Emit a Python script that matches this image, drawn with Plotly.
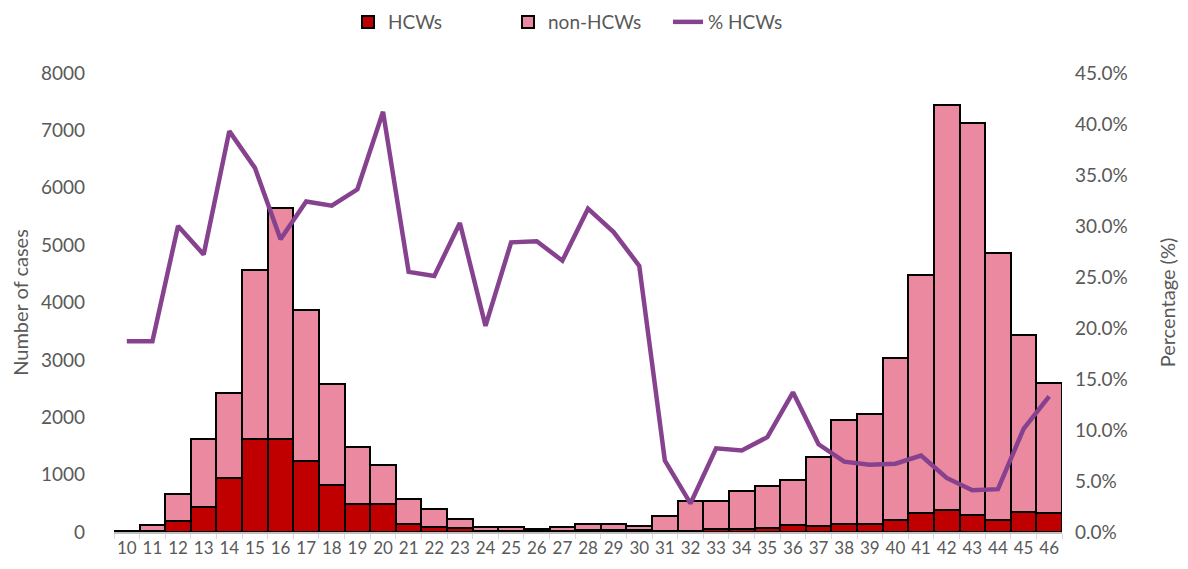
import plotly.graph_objects as go

weeks = [str(w) for w in range(10, 47)]
hcws = [3, 23, 186, 430, 941, 1620, 1620, 1237, 814, 483, 483, 145, 93, 70, 19, 23, 16, 22, 42, 43, 29,
        20, 15, 44, 57, 74, 123, 112, 134, 136, 203, 336, 378, 290, 205, 343, 336]
non_hcws = [10, 99, 483, 1190, 1481, 2940, 4035, 2638, 1759, 1005, 691, 425, 313, 163, 74, 59, 39, 60, 92, 103, 82,
            259, 525, 496, 652, 727, 777, 1195, 1812, 1925, 2823, 4144, 7062, 6835, 4656, 3089, 2254]
pct_hcws = [18.7, 18.7, 30.0, 27.2, 39.3, 35.7, 28.7, 32.4, 32.0, 33.6, 41.2, 25.5, 25.1, 30.3, 20.2, 28.4, 28.5,
            26.6, 31.7, 29.4, 26.1, 7.0, 2.8, 8.2, 8.0, 9.3, 13.7, 8.6, 6.9, 6.6, 6.7, 7.5, 5.3, 4.1, 4.2, 10.1, 13.3]

FONT = "Lato"
GRAY = "#595959"

fig = go.Figure()
fig.add_trace(go.Bar(x=weeks, y=hcws, name="HCWs", marker=dict(color="#C00000", line=dict(color="black", width=2))))
fig.add_trace(go.Bar(x=weeks, y=non_hcws, name="non-HCWs", marker=dict(color="#EA899F", line=dict(color="black", width=2))))
fig.add_trace(go.Scatter(x=weeks, y=[p / 100 for p in pct_hcws], name="% HCWs", mode="lines",
                         line=dict(color="#86428F", width=4.5), yaxis="y2"))

fig.update_layout(
    width=1180, height=561,
    barmode="stack", bargap=0,
    plot_bgcolor="white", paper_bgcolor="white",
    margin=dict(l=106, r=126, t=65, b=37, autoexpand=False),
    font=dict(family=FONT, color=GRAY, size=18),
    legend=dict(orientation="h", x=0.5, xanchor="center", y=0.975, yref="container", yanchor="middle",
                font=dict(size=19, color=GRAY), traceorder="normal", entrywidth=115, entrywidthmode="pixels"),
    xaxis=dict(type="category", showline=True, linecolor="#BFBFBF", linewidth=1.5, tickangle=0,
               ticks="outside", tickson="boundaries", ticklen=5, tickcolor="#D9D9D9",
               tickfont=dict(size=17, color=GRAY), showgrid=False),
    yaxis=dict(range=[0, 8000], dtick=1000, showgrid=False, zeroline=False, showline=False,
               tickfont=dict(size=19, color=GRAY), ticklabelstandoff=28,
               title=dict(text="Number of cases", font=dict(size=20, color=GRAY), standoff=6)),
    yaxis2=dict(range=[0, 0.45], dtick=0.05, tickformat=".1%", overlaying="y", side="right",
                showgrid=False, zeroline=False, showline=False,
                tickfont=dict(size=19, color=GRAY), ticklabelstandoff=12,
                title=dict(text="Percentage (%)", font=dict(size=20, color=GRAY), standoff=34)),
)

fig.write_html("out.html")
